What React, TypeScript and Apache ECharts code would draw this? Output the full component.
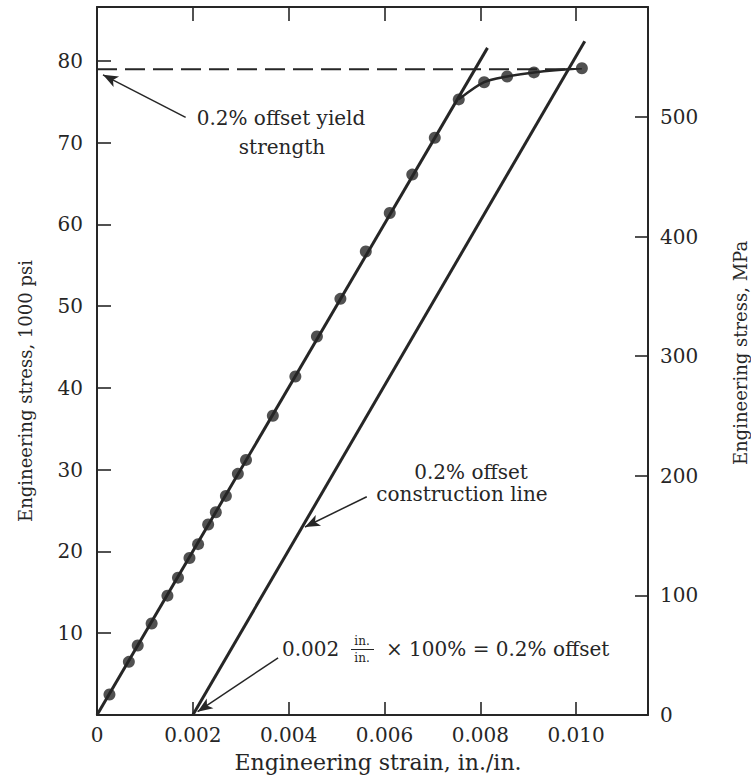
import React, { useEffect, useRef } from "react";
import * as echarts from "echarts";

// Measured data points (engineering strain, in./in. ; engineering stress, ksi)
const strain = [
  0.00026, 0.000665, 0.00085, 0.00114, 0.00147, 0.00169, 0.00193, 0.00211, 0.00232,
  0.00248, 0.00269, 0.00294, 0.00311, 0.00367, 0.00414, 0.00459, 0.00508, 0.00561,
  0.00611, 0.00658, 0.00705, 0.00755, 0.00808, 0.00856, 0.00912, 0.01012,
];
const stressKsi = [
  2.5, 6.5, 8.5, 11.2, 14.6, 16.8, 19.2, 20.9, 23.3, 24.8, 26.8, 29.5, 31.2, 36.6,
  41.4, 46.3, 50.9, 56.7, 61.4, 66.1, 70.6, 75.3, 77.4, 78.1, 78.6, 79.1,
];
// first index of the plastic (curved) part
const plasticStart = 21;

// elastic fit line and 0.2% offset construction line
const elasticStrain = [0, 0.00815];
const elasticStress = [0, 81.6];
const offsetStrain = [0.002, 0.01018];
const offsetStress = [0, 82.4];

// 0.2% offset yield strength (dashed)
const yieldStrain = [0, 0.0099];
const yieldStress = [79.0, 79.0];

// axes
const xMax = 0.0115;
const xStep = 0.002;
const ksiMax = 86.6;
const mpaMax = 592;

// annotation arrows in data coords: [fromStrain, fromStress, toStrain, toStress]
const arrows = [
  [0.00185, 73.1, 0.000125, 78.3],
  [0.00563, 26.7, 0.00434, 23.0],
  [0.00378, 7.0, 0.0021, 0.4],
];

const INK = "#262626";
const FONT = '"DejaVu Serif", "Liberation Serif", serif';

export default function App() {
  const ref = useRef<HTMLDivElement>(null);
  useEffect(() => {
    if (!ref.current) return;
    const chart = echarts.init(ref.current, undefined, { renderer: "svg" });

    const pts = strain.map((s, i) => [s, stressKsi[i]]);
    const curve = pts.slice(plasticStart);
    const elastic = elasticStrain.map((s, i) => [s, elasticStress[i]]);
    const offset = offsetStrain.map((s, i) => [s, offsetStress[i]]);
    const yieldLine = yieldStrain.map((s, i) => [s, yieldStress[i]]);

    const txt = (
      text: string,
      x: number,
      y: number,
      size: number,
      align: string = "center",
      rotation = 0
    ) => ({
      type: "text",
      x,
      y,
      rotation,
      silent: true,
      style: {
        text,
        font: `${size}px ${FONT}`,
        fill: INK,
        align,
        verticalAlign: "middle",
        textAlign: align,
        textVerticalAlign: "middle",
      },
    });

    const xFmt = (v: number) => {
      const k = v / xStep;
      if (Math.abs(k - Math.round(k)) > 1e-6) return "";
      return v === 0 ? "0" : v.toFixed(3);
    };

    const tickStyle = { color: INK, width: 1.6 };
    const labelBase = { fontFamily: FONT, fontSize: 20, color: INK };

    chart.setOption({
      animation: false,
      backgroundColor: "#ffffff",
      grid: { left: 97, right: 103, top: 7, bottom: 67 },
      xAxis: [
        {
          type: "value",
          position: "bottom",
          min: 0,
          max: xMax,
          interval: xStep,
          axisLine: { show: true, onZero: false, lineStyle: { color: INK, width: 2 } },
          axisTick: { show: true, inside: true, length: 13, lineStyle: tickStyle },
          axisLabel: { ...labelBase, margin: 10, formatter: xFmt },
          splitLine: { show: false },
        },
        {
          type: "value",
          position: "top",
          min: 0,
          max: xMax,
          interval: xStep,
          axisLine: { show: true, onZero: false, lineStyle: { color: INK, width: 2 } },
          axisTick: { show: true, inside: true, length: 14, lineStyle: tickStyle },
          axisLabel: { show: false },
          splitLine: { show: false },
        },
      ],
      yAxis: [
        {
          type: "value",
          position: "left",
          min: 0,
          max: ksiMax,
          interval: 10,
          axisLine: { show: true, onZero: false, lineStyle: { color: INK, width: 2 } },
          axisTick: { show: true, inside: true, length: 14, lineStyle: tickStyle },
          axisLabel: {
            ...labelBase,
            margin: 14,
            formatter: (v: number) => (v === 0 || v % 10 !== 0 ? "" : String(v)),
          },
          splitLine: { show: false },
        },
        {
          type: "value",
          position: "right",
          min: 0,
          max: mpaMax,
          interval: 100,
          axisLine: { show: true, onZero: false, lineStyle: { color: INK, width: 2 } },
          axisTick: { show: true, inside: true, length: 13, lineStyle: tickStyle },
          axisLabel: {
            ...labelBase,
            margin: 12,
            formatter: (v: number) => (v % 100 !== 0 ? "" : String(v)),
          },
          splitLine: { show: false },
        },
      ],
      series: [
        {
          type: "line",
          data: elastic,
          showSymbol: false,
          lineStyle: { color: INK, width: 3 },
          z: 2,
          markLine: {
            silent: true,
            symbol: ["none", "arrow"],
            symbolSize: [9, 15],
            label: { show: false },
            lineStyle: { color: INK, width: 1.5, type: "solid" },
            data: arrows.map((a) => [{ coord: [a[0], a[1]] }, { coord: [a[2], a[3]] }]),
          },
        },
        {
          type: "line",
          data: offset,
          showSymbol: false,
          lineStyle: { color: INK, width: 3 },
          z: 2,
        },
        {
          type: "line",
          data: curve,
          showSymbol: false,
          smooth: 0.3,
          lineStyle: { color: INK, width: 2.5 },
          z: 2,
        },
        {
          type: "line",
          data: yieldLine,
          showSymbol: false,
          lineStyle: { color: INK, width: 2, type: [20, 8] },
          z: 2,
        },
        {
          type: "scatter",
          data: pts,
          symbol: "circle",
          symbolSize: 12,
          itemStyle: { color: INK },
          z: 3,
        },
      ],
      graphic: [
        txt("0.2% offset yield", 281, 118, 20),
        txt("strength", 282, 147, 20),
        txt("0.2% offset", 471, 472, 20),
        txt("construction line", 462, 494, 20),
        txt("0.002", 282, 649, 20, "left"),
        txt("in.", 362, 641, 12),
        txt("in.", 362, 658, 12),
        {
          type: "line",
          silent: true,
          shape: { x1: 351, y1: 649.5, x2: 374, y2: 649.5 },
          style: { stroke: INK, lineWidth: 1 },
        },
        txt("\u00d7 100% = 0.2% offset", 386, 649, 20, "left"),
        txt("Engineering strain, in./in.", 378, 762, 22),
        txt("Engineering stress, 1000 psi", 25, 391, 18, "center", Math.PI / 2),
        txt("Engineering stress, MPa", 740, 353, 18, "center", Math.PI / 2),
      ],
    });
    return () => chart.dispose();
  }, []);
  return (
    <div
      ref={ref}
      style={{ position: "fixed", left: 0, top: 0, width: 751, height: 782, background: "#fff" }}
    />
  );
}
